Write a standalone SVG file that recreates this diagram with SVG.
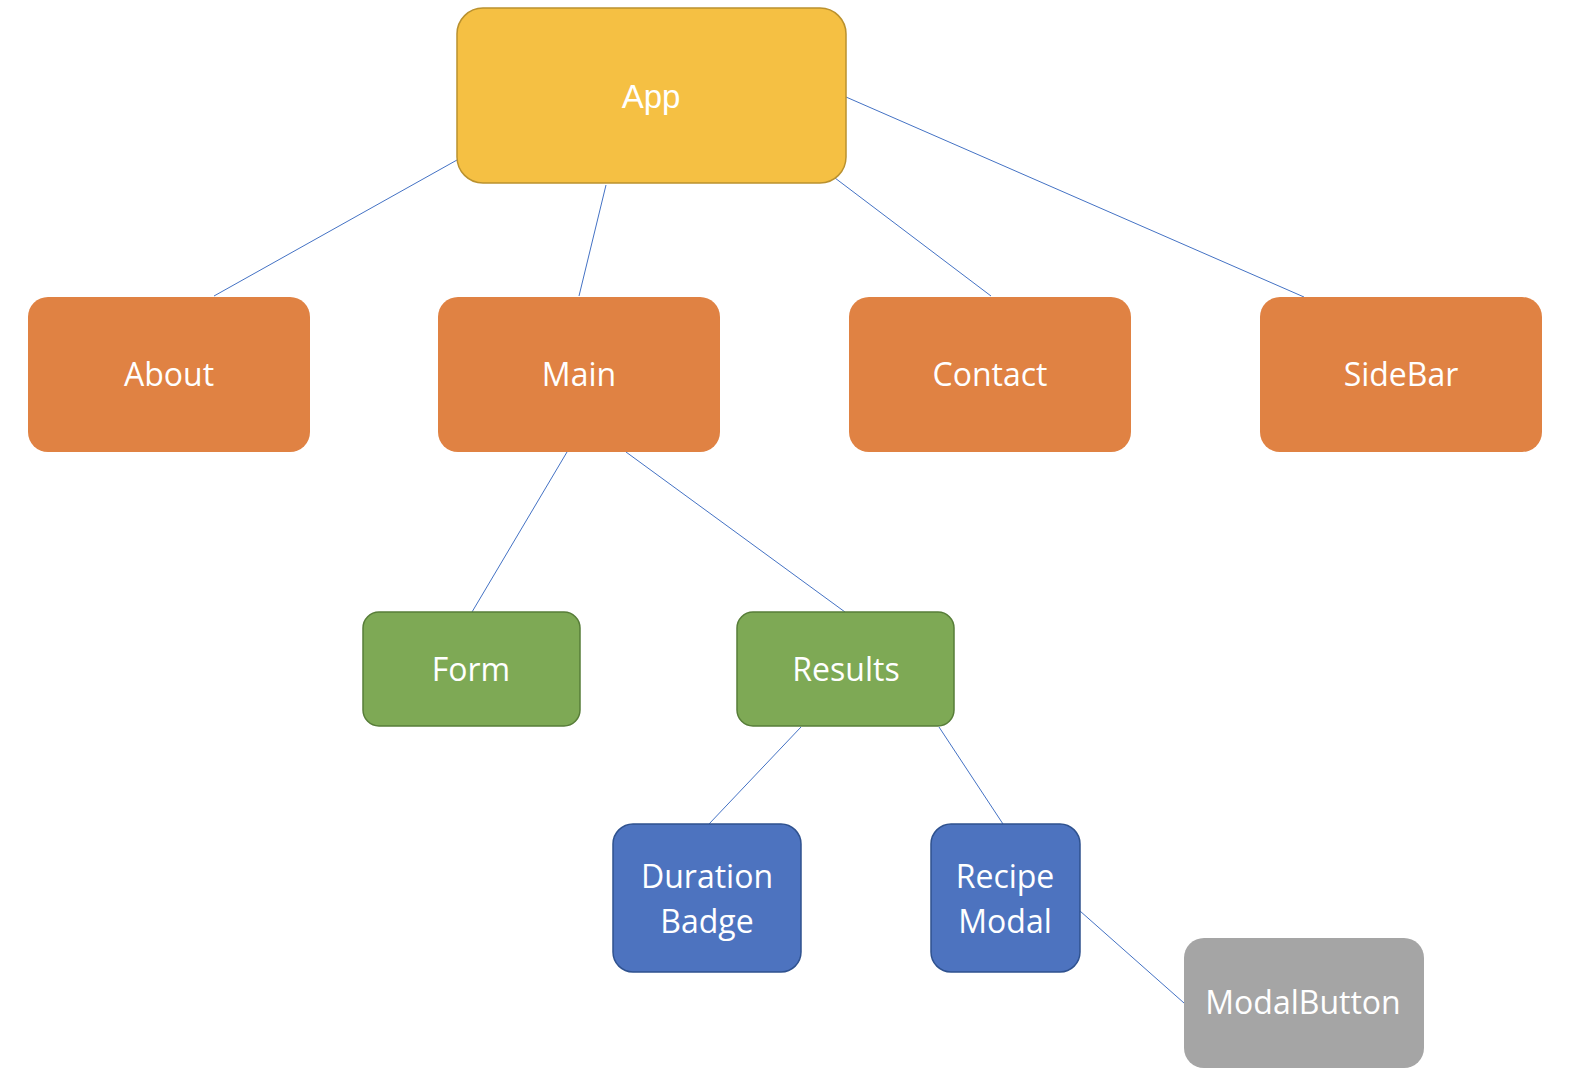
<svg xmlns="http://www.w3.org/2000/svg" width="1572" height="1092" viewBox="0 0 1572 1092">
<style>
.lbl{font-family:"Open Sans","Noto Sans",sans-serif;font-size:32px;fill:#fff;text-anchor:middle}
.app{font-family:"Liberation Sans",Arial,sans-serif;font-size:33px;fill:#fff;text-anchor:middle}
.or{fill:#E08243}
.gr{fill:#7EA955;stroke:#577D38;stroke-width:1.5}
.bl{fill:#4D73BF;stroke:#2F528F;stroke-width:1.5}
.gy{fill:#A5A5A5}
.conn line{stroke:#4472C4;stroke-width:1}
</style>
<rect width="1572" height="1092" fill="#fff"/>
<g class="conn" id="connectors">
<line x1="457" y1="160" x2="214" y2="296"/>
<line x1="606" y1="185" x2="579" y2="296"/>
<line x1="835" y1="178" x2="991" y2="296"/>
<line x1="846" y1="97" x2="1304" y2="297"/>
<line x1="567" y1="452" x2="472" y2="612"/>
<line x1="626" y1="452" x2="845" y2="612"/>
<line x1="801" y1="727" x2="709" y2="824"/>
<line x1="939" y1="727" x2="1003" y2="824"/>
<line x1="1080" y1="911" x2="1184" y2="1003"/>
</g>
<g id="app"><rect x="457" y="8" width="389" height="175" rx="26" fill="#F5C043" stroke="#BA912E" stroke-width="1.5"/><text class="app" x="651" y="108">App</text></g>
<g id="about"><rect class="or" x="28" y="297" width="282" height="155" rx="20"/><text class="lbl" x="169" y="386">About</text></g>
<g id="main"><rect class="or" x="438" y="297" width="282" height="155" rx="20"/><text class="lbl" x="579" y="386">Main</text></g>
<g id="contact"><rect class="or" x="849" y="297" width="282" height="155" rx="20"/><text class="lbl" x="990" y="386">Contact</text></g>
<g id="sidebar"><rect class="or" x="1260" y="297" width="282" height="155" rx="20"/><text class="lbl" x="1401" y="386">SideBar</text></g>
<g id="form"><rect class="gr" x="363" y="612" width="217" height="114" rx="16"/><text class="lbl" x="471" y="681">Form</text></g>
<g id="results"><rect class="gr" x="737" y="612" width="217" height="114" rx="16"/><text class="lbl" x="846" y="681">Results</text></g>
<g id="duration"><rect class="bl" x="613" y="824" width="188" height="148" rx="20"/><text class="lbl" x="707" y="888">Duration</text><text class="lbl" x="707" y="933">Badge</text></g>
<g id="recipe"><rect class="bl" x="931" y="824" width="149" height="148" rx="20"/><text class="lbl" x="1005" y="888">Recipe</text><text class="lbl" x="1005" y="933">Modal</text></g>
<g id="modalbutton"><rect class="gy" x="1184" y="938" width="240" height="130" rx="20"/><text class="lbl" x="1303" y="1014">ModalButton</text></g>
</svg>
